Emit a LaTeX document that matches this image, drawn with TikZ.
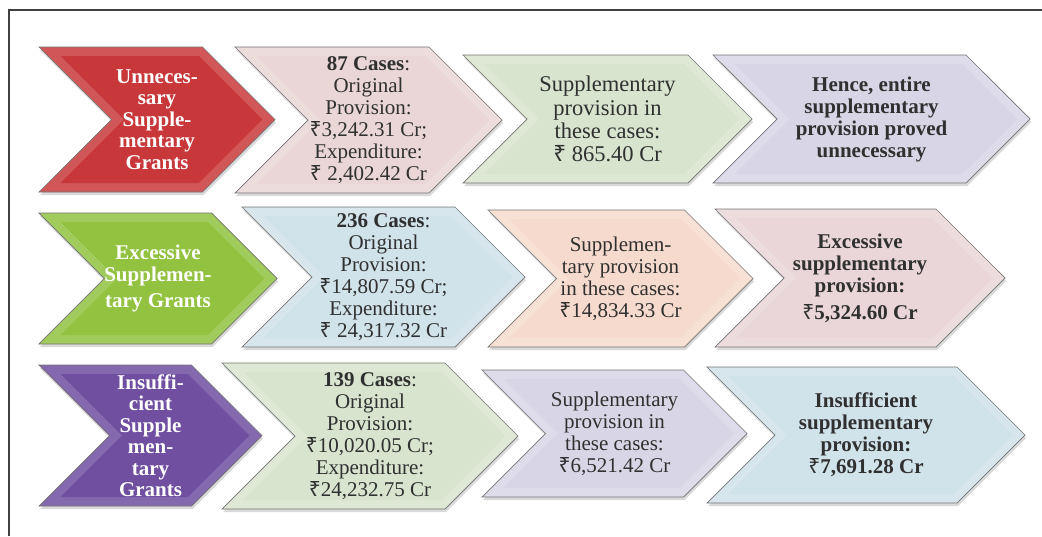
\documentclass[tikz,border=0pt]{standalone}
\usepackage{fontspec}
\setmainfont{Liberation Serif}
\newfontfamily\rupfont{Noto Sans}
\newcommand{\Rs}{{\rupfont ₹}}
\usetikzlibrary{shapes.symbols,shadows,calc}

\definecolor{txtgray}{RGB}{48,48,48}
\definecolor{redA}{RGB}{200,56,58}
\definecolor{pinkA}{RGB}{234,214,214}
\definecolor{greenA}{RGB}{216,228,206}
\definecolor{lavA}{RGB}{216,214,230}
\definecolor{greenB}{RGB}{146,194,64}
\definecolor{blueA}{RGB}{208,226,234}
\definecolor{peachA}{RGB}{246,218,205}
\definecolor{mauveA}{RGB}{234,214,216}
\definecolor{purpleB}{RGB}{112,78,160}

\begin{document}
\begin{tikzpicture}[x=1pt, y=-1pt,
    chev/.style={signal, signal from=west, signal to=east, signal pointer angle=90,
        draw=black!55, line width=0.7pt, fill=#1!85!white, inner sep=0pt, align=center,
        font=\fontsize{21}{22}\selectfont, text=txtgray,
        drop shadow={shadow xshift=1pt, shadow yshift=-3pt, opacity=0.3},
        path picture={
            \fill[#1] let \p1=(path picture bounding box.south west),
                \p2=(path picture bounding box.north east), \n1={(\y2-\y1)/2} in
                (\x1+21.7pt, \y2-9pt) -- (\x2-\n1-3.7pt, \y2-9pt) -- (\x2-12.7pt, \y1+\n1)
                -- (\x2-\n1-3.7pt, \y1+9pt) -- (\x1+21.7pt, \y1+9pt) -- (\x1+\n1+12.7pt, \y1+\n1) -- cycle;
        }},
    lead/.style={font=\fontsize{21}{21.5}\selectfont\bfseries, text=white}
]
\useasboundingbox (0,0) rectangle (1042,536);
\draw[black!75, line width=1.2pt] (9,536) -- (9,10) -- (1042,10);

% unnecessary
\node[chev=redA, lead, minimum width=236pt, minimum height=145pt] (unnec) at (157,119.5)
    {Unneces-\\sary\\Supple-\\mentary\\Grants};
\node[chev=pinkA, minimum width=267pt, minimum height=146pt] (unnecCases) at (368.5,120)
    {\textbf{87 Cases}:\\Original\\Provision:\\\Rs3,242.31 Cr;\\Expenditure:\\\Rs\ 2,402.42 Cr};
\node[chev=greenA, minimum width=289pt, minimum height=128pt, font=\fontsize{22.5}{23.3}\selectfont] (unnecSupp) at (607.5,119)
    {Supplementary\\provision in\\these cases:\\\Rs\ 865.40 Cr};
\node[chev=lavA, minimum width=317pt, minimum height=128pt, font=\fontsize{21}{22}\selectfont\bfseries] (unnecRes) at (871.5,119)
    {Hence, entire\\supplementary\\provision proved\\unnecessary};

% excessive
\node[chev=greenB, lead, minimum width=238pt, minimum height=131pt] (exc) at (158,278.5)
    {Excessive\\Supplemen-\\[5pt]tary Grants};
\node[chev=blueA, minimum width=283pt, minimum height=140pt] (excCases) at (383.5,277)
    {\textbf{236 Cases}:\\Original\\Provision:\\\Rs14,807.59 Cr;\\Expenditure:\\\Rs\ 24,317.32 Cr};
\node[chev=peachA, minimum width=265pt, minimum height=137pt] (excSupp) at (620.5,278.5)
    {Supplemen-\\tary provision\\in these cases:\\\Rs14,834.33 Cr};
\node[chev=mauveA, minimum width=290pt, minimum height=138pt, font=\fontsize{21}{22}\selectfont\bfseries] (excRes) at (860,278)
    {Excessive\\supplementary\\provision:\\[5pt]\Rs5,324.60 Cr};

% insufficient
\node[chev=purpleB, lead, minimum width=223pt, minimum height=141pt] (insuf) at (150.5,435.5)
    {Insuffi-\\cient\\Supple\\men-\\tary\\Grants};
\node[chev=greenA, minimum width=296pt, minimum height=146pt] (insufCases) at (370,436)
    {\textbf{139 Cases}:\\Original\\Provision:\\\Rs10,020.05 Cr;\\Expenditure:\\\Rs24,232.75 Cr};
\node[chev=lavA, minimum width=265pt, minimum height=127pt] (insufSupp) at (614.5,433.5)
    {Supplementary\\provision in\\these cases:\\\Rs6,521.42 Cr};
\node[chev=blueA, minimum width=318pt, minimum height=136pt, font=\fontsize{21}{22}\selectfont\bfseries] (insufRes) at (866,435)
    {Insufficient\\supplementary\\provision:\\\Rs7,691.28 Cr};

\end{tikzpicture}
\end{document}
